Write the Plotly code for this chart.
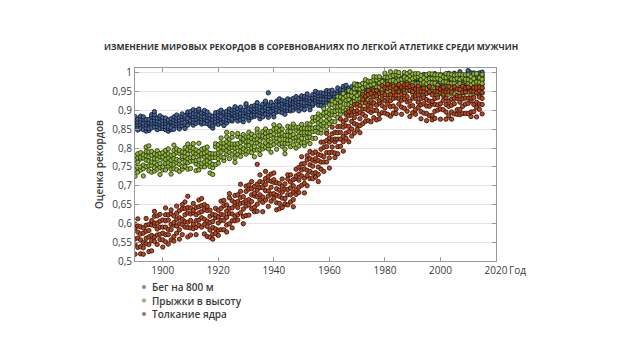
import plotly.graph_objects as go

# Years covered by the results (one row of values per year in each series below)
YEARS = list(range(1890, 2016))

# Relative record scores, in thousandths, one string per year
RUN_800M = [
    "853 861 869 876 884", "848 854 862 869 877", "852 863 870 877 885", "849 860 866 877 883",
    "845 853 862 869 876", "847 852 865 868 876", "854 866 872 884 889", "856 867 874 881 889 897",
    "849 857 865 872 880", "852 863 869 880 886",
    "852 858 866 873 881", "849 857 866 873 880", "845 852 858 870 875", "849 854 867 870 878",
    "850 861 868 875 883", "859 865 873 880 888", "851 859 867 874 882", "860 868 877 884 891",
    "852 863 869 880 886", "861 873 879 891 896",
    "868 873 886 889 897", "861 869 877 884 892 902", "866 877 884 891 899", "869 881 887 899 904",
    "864 870 878 885 893", "866 877 883 894 900", "865 873 882 889 896", "859 864 877 880 888",
    "853 861 869 876 884", "865 871 879 886 894",
    "863 874 881 888 896", "867 878 884 895 901", "860 872 878 890 895", "867 875 884 891 898",
    "873 881 889 896 904", "872 877 890 893 901", "881 887 895 902 910", "872 883 890 897 905",
    "875 886 892 903 909", "870 878 887 894 901",
    "883 895 901 913 918", "874 882 890 897 905", "882 887 900 903 911", "884 890 898 905 913",
    "888 899 906 913 921", "878 886 895 902 909", "883 894 900 911 917", "890 902 908 920 925",
    "882 890 898 905 913 947", "893 898 911 914 922",
    "883 891 900 907 914", "896 902 910 917 925", "897 908 914 925 931", "894 905 912 919 927",
    "890 902 908 920 925", "900 908 916 923 931", "899 904 917 920 928", "901 909 918 925 932",
    "908 914 922 929 937", "899 910 917 924 932",
    "905 916 922 933 939", "902 914 920 932 937", "913 921 929 936 944", "902 910 919 926 933",
    "913 918 931 934 942", "922 928 936 943 951", "914 925 932 939 947", "913 924 930 941 947",
    "911 923 929 941 946", "922 930 938 945 953",
    "923 929 937 944 952", "925 930 943 946 954", "914 922 931 938 945", "929 937 945 952 960",
    "921 932 938 949 955", "931 942 949 956 964", "932 944 950 962 967", "929 935 943 950 958",
    "934 939 952 955 963", "928 936 945 952 959",
    "939 947 955 962 970", "932 943 949 960 966", "942 948 956 963 971", "932 944 950 962 967",
    "942 950 959 966 973", "942 953 960 967 975", "947 952 965 968 976", "940 948 956 963 971",
    "949 960 966 977 983", "951 957 965 972 980",
    "944 956 962 974 979", "956 967 974 981 989", "946 954 963 970 977", "951 962 968 979 985",
    "948 953 966 969 977", "957 965 973 980 988", "956 962 970 977 985", "960 972 978 990 995",
    "954 965 972 979 987 996", "954 962 971 978 985",
    "959 964 977 980 988 993", "955 961 969 976 984", "961 969 977 984 992", "958 969 976 983 991",
    "962 973 979 990 996", "954 966 972 984 989", "959 967 976 983 990", "960 965 978 981 989",
    "969 975 983 990 998", "956 964 972 979 987",
    "962 973 980 987 995", "963 971 980 987 994", "958 969 975 986 992", "970 975 988 991 999",
    "963 971 979 986 994", "970 976 984 991 999", "959 971 977 989 994", "970 981 988 995 1003",
    "963 971 980 987 994", "960 971 977 988 994",
    "972 980 988 995 1003 1006", "965 977 983 995 1000", "971 976 989 992 1000",
    "968 974 982 989 997", "969 977 986 993 1000", "969 980 987 994 1002",
]

HIGH_JUMP = [
    "725 743 752 770 780", "736 748 763 774 785", "742 750 771 776 788", "726 745 755 774 782",
    "751 768 779 791 803", "740 753 766 777 790 806", "736 754 763 781 791", "739 748 761 772 785",
    "744 756 771 782 793", "730 749 759 778 786",
    "742 750 771 776 788", "742 759 770 782 794", "752 761 774 785 798", "731 744 757 768 781",
    "745 757 772 783 794 808", "743 761 770 788 798", "738 757 767 786 794", "744 752 773 778 790",
    "751 764 777 788 801", "744 761 772 784 796 811",
    "746 765 775 794 802", "766 775 788 799 812", "740 758 767 785 795", "742 754 769 780 791 813",
    "751 759 780 785 797", "750 763 776 787 800", "757 766 779 790 803", "734 751 762 774 786",
    "730 748 757 775 785", "756 775 785 804 812",
    "760 772 787 798 809", "777 790 803 814 827", "767 775 796 801 813", "784 793 806 817 830 842",
    "772 789 800 812 824", "784 802 811 829 839", "762 774 789 800 811", "783 802 812 831 839",
    "778 791 804 815 828", "790 798 819 824 836",
    "784 793 806 817 830", "790 807 818 830 842", "788 800 815 826 837", "777 795 804 822 832",
    "795 814 824 843 851", "783 796 809 820 833", "798 806 827 832 844", "802 814 829 840 851",
    "798 807 820 831 844", "789 807 816 834 844",
    "810 827 838 850 862", "797 816 826 845 853", "810 823 836 847 860", "805 813 834 839 851",
    "785 797 812 823 834", "812 821 834 845 858", "804 821 832 844 856", "809 827 836 854 864",
    "800 819 829 848 856", "806 819 832 843 856",
    "814 826 841 852 863", "807 815 836 841 853", "819 828 841 852 865", "812 829 840 852 864",
    "826 844 853 871 881", "826 845 855 874 882", "841 854 867 878 891", "840 849 862 873 886",
    "859 867 888 893 905", "846 858 873 884 895",
    "865 878 891 902 915", "871 889 898 916 926", "870 887 898 910 922", "881 900 910 929 937",
    "890 899 912 923 936", "899 907 928 933 945", "889 901 916 927 938", "903 916 929 940 953",
    "894 912 921 939 949", "925 934 947 958 971",
    "911 930 940 959 967", "919 931 946 957 968", "920 937 948 960 972", "936 944 965 970 982",
    "928 941 954 965 978", "923 941 950 968 978", "948 957 970 981 990", "933 952 962 981 989",
    "945 962 973 985 990", "928 940 955 966 977",
    "944 962 971 989 999", "942 950 971 976 988", "953 966 979 990 1003", "947 956 969 980 993",
    "947 966 976 995 1003", "953 970 981 993 1001", "934 946 961 972 983", "955 963 984 989 1001",
    "952 961 974 985 998", "955 968 981 992 1003",
    "945 962 973 985 997", "943 961 970 988 998", "942 961 971 990 998", "944 956 971 982 993",
    "941 949 970 975 987", "949 958 971 982 995", "948 961 974 985 998", "945 962 973 985 997",
    "946 958 973 984 995", "940 958 967 985 995",
    "948 956 977 982 994", "939 952 965 976 989", "954 963 976 987 998", "943 962 972 991 997",
    "944 961 972 984 996", "945 957 972 983 994", "940 958 967 985 995", "946 959 972 983 996",
    "939 958 968 987 995", "949 957 978 983 995",
    "949 958 971 982 995", "941 953 968 979 990", "945 962 973 985 997", "947 966 976 995 998",
    "941 949 970 975 987", "946 959 972 983 996",
]

SHOT_PUT = [
    "518 545 559 587 598", "536 561 577 593 612", "519 538 556 572 591", "518 535 549 574 588",
    "546 560 579 595 613", "525 544 564 581 597", "527 554 568 596 607", "552 564 594 601 619 632",
    "544 569 585 601 620", "557 571 590 606 624",
    "537 556 574 590 609", "551 570 590 607 623 641", "545 570 584 609 623", "556 583 597 625 636",
    "553 565 595 602 620", "574 593 611 627 646", "558 583 599 615 634", "570 597 611 639 650",
    "590 604 623 639 657", "564 589 603 628 642 672",
    "569 588 608 625 641", "586 598 628 635 653", "570 589 607 623 642", "595 609 628 644 662",
    "590 615 631 647 666", "572 597 611 636 650", "565 592 606 634 645", "563 582 602 619 635",
    "558 571 589 605 624", "573 585 615 622 640",
    "568 582 601 617 635", "583 608 624 640 659", "583 608 622 647 661", "577 596 616 633 649",
    "599 626 640 668 679", "588 607 625 641 660", "607 619 649 656 674", "609 623 642 658 676",
    "628 653 669 685 704", "599 618 638 655 671",
    "621 646 660 685 699", "622 649 663 691 702", "639 658 676 692 711", "631 643 673 680 698",
    "632 651 671 688 704 757", "662 676 695 711 729", "631 656 670 695 709", "662 687 703 719 738",
    "645 672 686 714 725", "659 678 696 712 731",
    "667 679 709 716 734", "636 655 675 692 708", "639 653 672 688 706", "642 667 683 699 718",
    "651 652 666 691 705", "649 676 690 718 729", "657 676 694 710 729", "644 663 683 700 716",
    "677 689 719 726 744", "682 696 715 731 749",
    "701 726 742 758 777", "681 706 720 745 759", "700 727 741 769 780", "719 738 756 772 791",
    "719 733 752 768 786", "723 735 765 772 790", "711 730 750 767 783", "744 763 781 797 816",
    "738 763 777 802 816", "763 788 804 820 839",
    "747 774 788 816 827", "789 803 822 838 856", "775 787 817 824 842", "785 804 824 841 857",
    "805 824 842 858 877", "792 817 831 856 870", "826 840 859 875 893", "817 844 858 886 897",
    "832 851 871 888 904", "840 865 881 897 916",
    "850 862 892 899 917", "841 860 878 894 913", "865 890 904 929 943", "871 885 904 920 938",
    "873 900 914 942 953", "870 895 911 927 946", "881 900 920 937 953", "875 900 914 939 953",
    "878 890 920 927 945", "894 913 931 947 966",
    "893 907 926 942 960", "890 917 931 959 970", "885 910 926 942 961", "893 912 932 949 965",
    "892 904 934 941 959", "917 931 950 966 969", "890 909 927 943 962", "906 931 947 963 968",
    "898 923 937 962 970", "884 911 925 953 964",
    "894 913 933 950 966", "890 902 932 939 957", "908 922 941 957 965", "878 897 915 931 950",
    "893 918 934 950 960", "873 892 912 929 945", "886 911 925 950 964", "875 887 917 924 942",
    "879 898 916 932 951", "901 915 934 950 960",
    "877 904 918 946 957", "902 927 943 959 962", "877 896 916 933 949", "886 911 925 950 964",
    "877 896 914 930 949", "891 918 932 960 963", "890 902 932 939 957", "889 903 922 938 956",
    "892 911 931 948 964", "892 917 933 949 960",
    "892 919 933 961 962", "884 896 926 933 951", "897 916 934 950 961", "883 908 922 947 961",
    "903 917 936 952 962", "891 916 932 948 960",
]

SERIES_NAMES = ["Бег на 800 м", "Прыжки в высоту", "Толкание ядра"]
FILL_COLORS = ["#48679e", "#93b83a", "#b44a24"]
EDGE_COLORS = ["#121a28", "#2c3a12", "#3a1308"]
LEGEND_COLORS = ["#6f8cbd", "#a9c85e", "#c0694a"]

TITLE = "ИЗМЕНЕНИЕ МИРОВЫХ РЕКОРДОВ В СОРЕВНОВАНИЯХ ПО ЛЕГКОЙ АТЛЕТИКЕ СРЕДИ МУЖЧИН"
Y_TITLE = "Оценка рекордов"
X_TITLE = "Год"
Y_TICKS = [0.5, 0.55, 0.6, 0.65, 0.7, 0.75, 0.8, 0.85, 0.9, 0.95, 1.0]
X_TICKS = [1900, 1920, 1940, 1960, 1980, 2000, 2020]

TEXT_FONT = "Open Sans, Noto Sans, sans-serif"
TITLE_FONT = "Liberation Sans Narrow, Open Sans, sans-serif"

fig = go.Figure()

for name, rows, fill, edge in zip(SERIES_NAMES, [RUN_800M, HIGH_JUMP, SHOT_PUT],
                                  FILL_COLORS, EDGE_COLORS):
    xs, ys = [], []
    for year, row in zip(YEARS, rows):
        for v in row.split():
            xs.append(year)
            ys.append(int(v) / 1000)
    fig.add_trace(go.Scatter(
        x=xs, y=ys, mode="markers", name=name, showlegend=False,
        marker=dict(size=4.3, color=fill, line=dict(color=edge, width=0.9)),
        hoverinfo="skip",
    ))

# Pixel geometry of the page and the plotting area
W, H = 620, 348
ML, MR, MT, MB = 135, 124, 68, 87
pw, ph = W - ML - MR, H - MT - MB


def px_to_paper(xp, yp):
    return (xp - ML) / pw, (H - MB - yp) / ph


annotations = []
shapes = []
# Legend under the plot: small coloured bullets with labels
for i, (name, fill) in enumerate(zip(SERIES_NAMES, LEGEND_COLORS)):
    yp = 287 + i * 13.5
    r = 1.8
    x0, y0 = px_to_paper(144 - r, yp + r)
    x1, y1 = px_to_paper(144 + r, yp - r)
    shapes.append(dict(type="circle", xref="paper", yref="paper",
                       x0=x0, y0=y0, x1=x1, y1=y1,
                       fillcolor=fill, line=dict(color="#888", width=0.6)))
    tx, ty = px_to_paper(150, yp)
    annotations.append(dict(text=name, xref="paper", yref="paper", x=tx, y=ty,
                            xanchor="left", yanchor="middle", showarrow=False,
                            font=dict(family=TEXT_FONT, size=10, color="#3a3a3a",
                                      weight=600)))

tx, ty = px_to_paper(311, 46)
annotations.append(dict(text=TITLE, xref="paper", yref="paper", x=tx, y=ty,
                        xanchor="center", yanchor="middle", showarrow=False,
                        font=dict(family=TITLE_FONT, size=8.5, color="#333",
                                  weight="bold")))
tx, ty = px_to_paper(507, 270)
annotations.append(dict(text=X_TITLE, xref="paper", yref="paper", x=tx, y=ty,
                        xanchor="left", yanchor="middle", showarrow=False,
                        font=dict(family=TEXT_FONT, size=10, color="#3a3a3a")))

fig.update_layout(
    width=W, height=H,
    margin=dict(l=ML, r=MR, t=MT, b=MB, pad=0),
    paper_bgcolor="white", plot_bgcolor="white",
    separators=", ",
    font=dict(family=TEXT_FONT, size=10, color="#3a3a3a"),
    annotations=annotations, shapes=shapes,
    showlegend=False,
)
fig.update_xaxes(
    range=[1890, 2020], tickvals=X_TICKS, ticks="inside", ticklen=4,
    tickcolor="#999", showline=True, linecolor="#999", linewidth=1,
    mirror="ticks", showgrid=False, zeroline=False,
    tickfont=dict(size=10, color="#3a3a3a"),
)
fig.update_yaxes(
    range=[0.5, 1.013], tickvals=Y_TICKS, tickformat=".2~f",
    ticks="inside", ticklen=4, tickcolor="#999",
    showline=True, linecolor="#999", linewidth=1, mirror="ticks",
    showgrid=True, gridcolor="#e4e4e4", gridwidth=1, zeroline=False,
    tickfont=dict(size=10, color="#3a3a3a"),
    title=dict(text=Y_TITLE, standoff=6,
               font=dict(size=10, color="#3a3a3a", weight=600)),
)

fig.write_html("out.html")
